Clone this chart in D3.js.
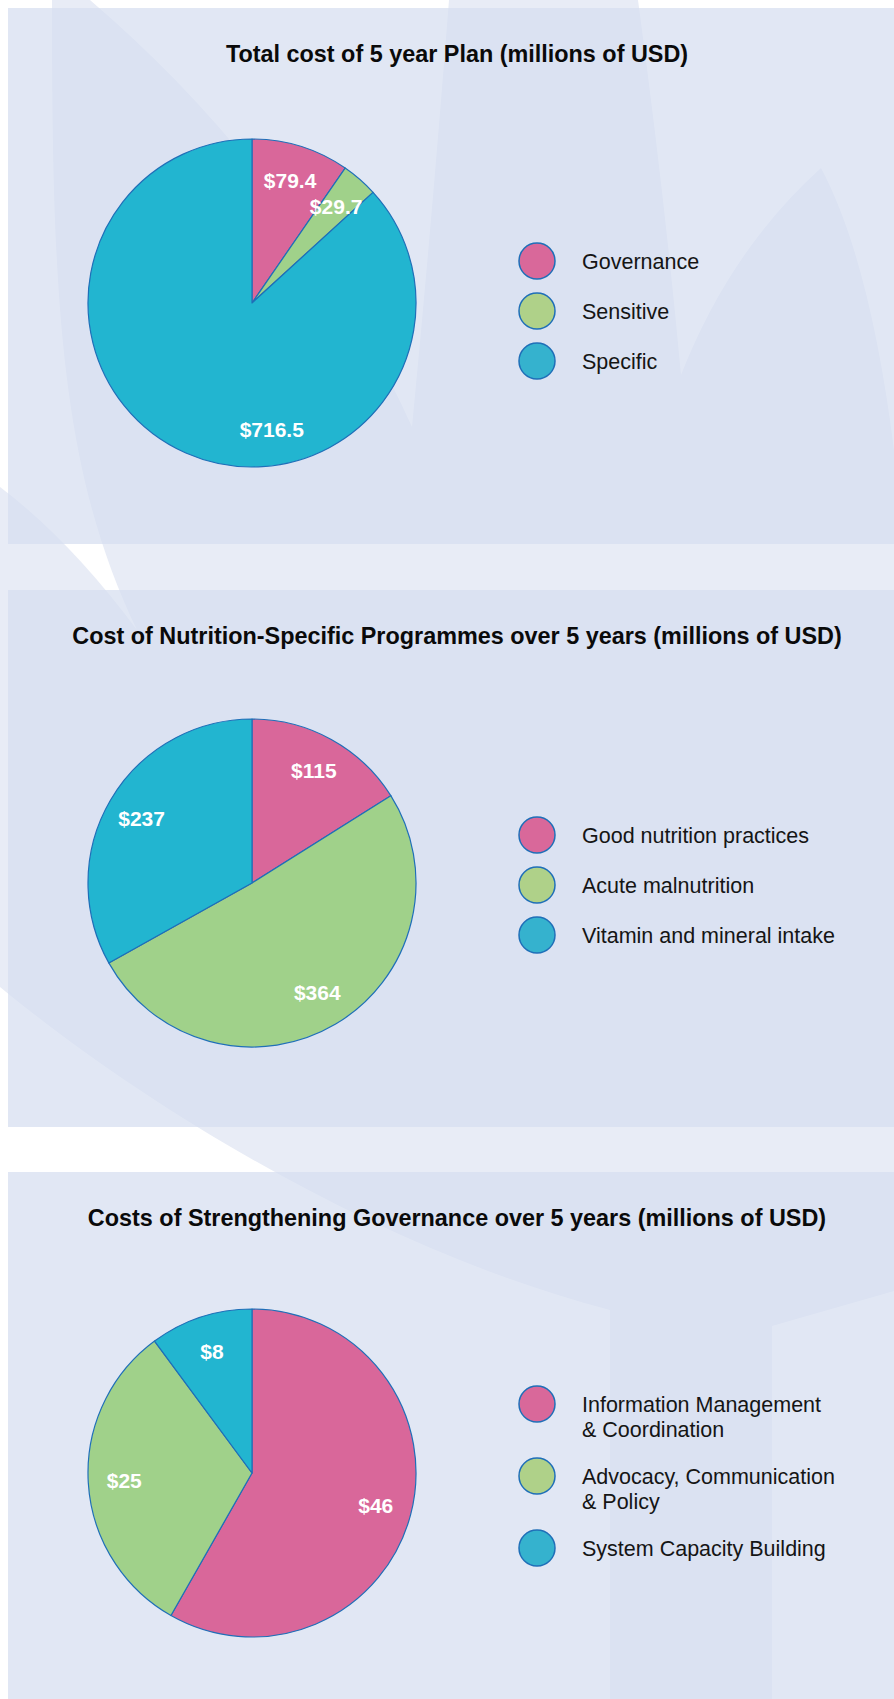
<!DOCTYPE html>
<html>
<head>
<meta charset="utf-8">
<script src="https://cdn.jsdelivr.net/npm/d3@7"></script>
<style>
  html, body { margin: 0; padding: 0; background: #ffffff; }
  svg { display: block; font-family: "Liberation Sans", Arial, Helvetica, sans-serif; }
</style>
</head>
<body>
<script>
// --- data ---
const planCategories = ['Governance', 'Sensitive', 'Specific'];
const planValues = [79.4, 29.7, 716.5];

const specificCategories = ['Good nutrition practices', 'Acute malnutrition', 'Vitamin and mineral intake'];
const specificValues = [115, 364, 237];

const governanceCategories = ['Information Management\n& Coordination', 'Advocacy, Communication\n& Policy', 'System Capacity Building'];
const governanceValues = [46, 25, 8];

const chartTitles = [
  'Total cost of 5 year Plan (millions of USD)',
  'Cost of Nutrition-Specific Programmes over 5 years (millions of USD)',
  'Costs of Strengthening Governance over 5 years (millions of USD)'
];

// --- look ---
const W = 894, H = 1699;
const sliceColors = ['#d9679a', '#a0d18a', '#22b5d0'];
const legendColors = ['#d9689a', '#afd189', '#35b2ce'];
const edgeColor = '#1f6fb8';
const radius = 164;
const labelRadius = 128;
// the big "Specific" label sits lower than the slice centre in the original
const labelNudge = { Specific: -0.57 };

const panels = [
  { top: 8, bottom: 544, cy: 303, legendY: 311, step: 50 },
  { top: 590, bottom: 1127, cy: 883, legendY: 885, step: 50 },
  { top: 1172, bottom: 1699, cy: 1473, legendY: 1476, step: 72 }
];

const charts = [
  { cats: planCategories, vals: planValues },
  { cats: specificCategories, vals: specificValues },
  { cats: governanceCategories, vals: governanceValues }
];

const svg = d3.select('body').append('svg')
  .attr('width', W)
  .attr('height', H);

// background: pale swooshes behind the panels
svg.append('rect').attr('width', W).attr('height', H).attr('fill', '#e8ecf6');
const gaps = [
  'M0,0 L52,0 C52,300 60,470 137,630 Q70,540 0,487 Z',
  'M90,0 Q300,180 412,427 Q432,220 449,0 Z',
  'M638,0 Q665,200 681,375 Q730,250 821,168 Q870,260 894,450 L894,0 Z',
  'M0,987 C150,1110 380,1250 610,1310 L610,1699 L0,1699 Z',
  'M772,1699 L772,1326 L894,1291 L894,1699 Z'
];
svg.append('g').selectAll('path')
  .data(gaps)
  .enter().append('path')
  .attr('d', d => d)
  .attr('fill', '#ffffff');

svg.append('g').selectAll('rect')
  .data(panels)
  .enter().append('rect')
  .attr('x', 8)
  .attr('y', d => d.top)
  .attr('width', W - 8)
  .attr('height', d => d.bottom - d.top)
  .attr('fill', 'rgb(214,222,240)')
  .attr('fill-opacity', 0.72);

const pie = d3.pie().sort(null).value(d => d.value);
const arc = d3.arc().innerRadius(0).outerRadius(radius);
const labelArc = d3.arc().innerRadius(labelRadius).outerRadius(labelRadius);

charts.forEach((chart, i) => {
  const p = panels[i];
  const rows = chart.cats.map((c, j) => ({ name: c, value: chart.vals[j], idx: j }));

  // title
  svg.append('text')
    .attr('x', 457)
    .attr('y', p.top + 46)
    .attr('dy', '0.35em')
    .attr('text-anchor', 'middle')
    .attr('font-size', 23.4)
    .attr('font-weight', 'bold')
    .attr('fill', '#0a0a0a')
    .text(chartTitles[i]);

  const g = svg.append('g').attr('transform', `translate(252,${p.cy})`);

  const arcs = pie(rows);
  g.selectAll('path')
    .data(arcs)
    .enter().append('path')
    .attr('d', arc)
    .attr('fill', d => sliceColors[d.data.idx])
    .attr('stroke', edgeColor)
    .attr('stroke-width', 1.2)
    .attr('stroke-linejoin', 'round');

  g.selectAll('text')
    .data(arcs)
    .enter().append('text')
    .attr('transform', d => {
      const a = (d.startAngle + d.endAngle) / 2 + (labelNudge[d.data.name] || 0);
      const c = labelArc.centroid({ startAngle: a, endAngle: a });
      return `translate(${c[0]},${c[1]})`;
    })
    .attr('dy', '0.35em')
    .attr('text-anchor', 'middle')
    .attr('font-size', 21)
    .attr('font-weight', 'bold')
    .attr('fill', '#ffffff')
    .text(d => '$' + d.data.value);

  // legend
  const first = p.legendY - p.step * (rows.length - 1) / 2;
  const leg = svg.append('g').selectAll('g')
    .data(rows)
    .enter().append('g')
    .attr('transform', (d, j) => `translate(537,${first + j * p.step})`);

  leg.append('circle')
    .attr('r', 18)
    .attr('fill', d => legendColors[d.idx])
    .attr('stroke', edgeColor)
    .attr('stroke-width', 1.5);

  leg.append('text')
    .attr('x', 45)
    .attr('font-size', 21.5)
    .attr('fill', '#151515')
    .selectAll('tspan')
    .data(d => d.name.split('\n'))
    .enter().append('tspan')
    .attr('x', 45)
    .attr('y', (t, k) => k * 25)
    .attr('dy', '0.35em')
    .text(t => t);
});
</script>
</body>
</html>
